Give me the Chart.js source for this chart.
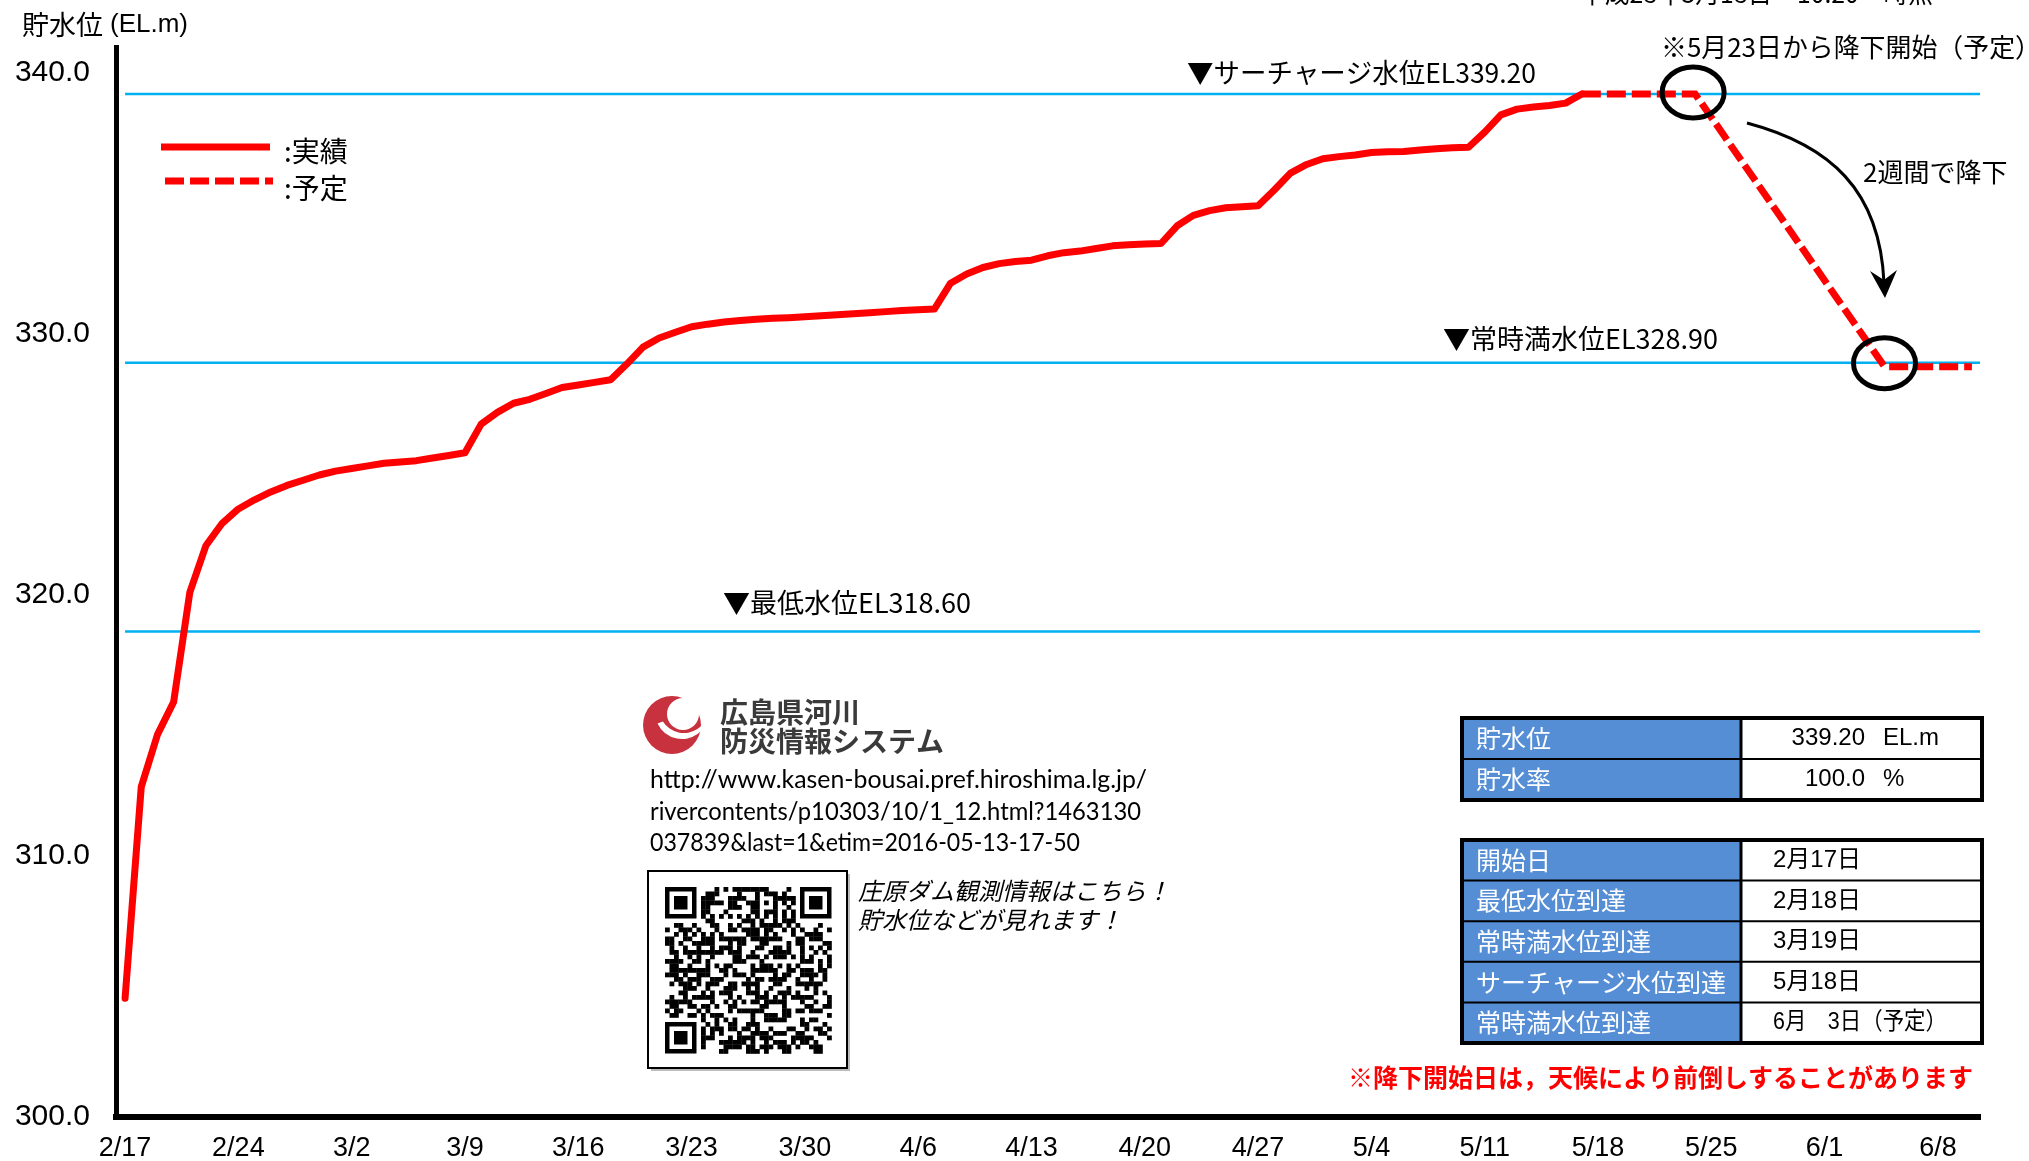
<!DOCTYPE html>
<html lang="ja">
<head>
<meta charset="utf-8">
<title>貯水位</title>
<script src="https://cdn.jsdelivr.net/npm/chart.js@4.4.1/dist/chart.umd.min.js"></script>
<style>
  html, body { margin: 0; padding: 0; background: #fff; }
</style>
</head>
<body>
<canvas id="chart" width="2029" height="1161"></canvas>
<script>
// x = days since 2/17
const dateLabels = ['2/17', '2/24', '3/2', '3/9', '3/16', '3/23', '3/30', '4/6', '4/13', '4/20', '4/27', '5/4', '5/11', '5/18', '5/25', '6/1', '6/8'];
const yTicks = [300, 310, 320, 330, 340];

// daily water level (EL.m), day 0 = 2/17
const actualLevel = [
  304.55, 312.65, 314.65, 315.9, 320.1, 321.9, 322.75, 323.3, 323.65, 323.95,
  324.2, 324.4, 324.6, 324.75, 324.85, 324.95, 325.05, 325.1, 325.15, 325.25,
  325.35, 325.45, 326.55, 327.0, 327.35, 327.5, 327.72, 327.95, 328.05, 328.15,
  328.25, 328.85, 329.5, 329.85, 330.07, 330.28, 330.38, 330.46, 330.52, 330.57,
  330.61, 330.63, 330.66, 330.7, 330.74, 330.78, 330.82, 330.86, 330.9, 330.93,
  330.96, 331.95, 332.3, 332.55, 332.7, 332.78, 332.83, 333.0, 333.12, 333.18,
  333.28, 333.38, 333.42, 333.45, 333.47, 334.15, 334.55, 334.73, 334.84, 334.88,
  334.92, 335.52, 336.17, 336.5, 336.72, 336.8, 336.86, 336.96, 336.99, 337.0,
  337.05, 337.1, 337.14, 337.16, 337.74, 338.4, 338.62, 338.7, 338.76, 338.85,
  339.2
];
// planned drawdown
const planDays = [90, 97, 108.7, 114.1];
const planLevel = [339.2, 339.2, 328.75, 328.75];

// reference levels
const refLevels = [339.2, 328.9, 318.6];
const refNames = ['サーチャージ水位', '常時満水位', '最低水位'];

// info tables
const table1Labels = ['貯水位', '貯水率'];
const table1Values = ['339.20', '100.0'];
const table1Units = ['EL.m', '%'];
const table2Labels = ['開始日', '最低水位到達', '常時満水位到達', 'サーチャージ水位到達', '常時満水位到達'];
const table2Values = ['2月17日', '2月18日', '3月19日', '5月18日', '6月　3日（予定）'];

const urlLines = [
  'http://www.kasen-bousai.pref.hiroshima.lg.jp/',
  'rivercontents/p10303/10/1_12.html?1463130',
  '037839&last=1&etim=2016-05-13-17-50'
];

const X_MIN = -0.56, X_MAX = 114.6;
const RED = '#FF0000';
const BLUE = '#00B0F0';
const CELL_BLUE = '#558ED5';
const JP = '"Noto Sans CJK JP", sans-serif';
const NUM = '"Liberation Sans", "Noto Sans CJK JP", sans-serif';
const DASH = [19, 6];

function txt(ctx, s, x, y, size, o = {}) {
  ctx.save();
  ctx.font = [o.style, o.weight, size + 'px', o.family || NUM].filter(Boolean).join(' ');
  ctx.fillStyle = o.color || '#000';
  ctx.textAlign = o.align || 'left';
  ctx.textBaseline = 'middle';
  if (o.maxWidth) ctx.fillText(s, x, y, o.maxWidth);
  else ctx.fillText(s, x, y);
  ctx.restore();
}

function line(ctx, x0, y0, x1, y1, w, color) {
  ctx.beginPath();
  ctx.moveTo(x0, y0);
  ctx.lineTo(x1, y1);
  ctx.lineWidth = w;
  ctx.strokeStyle = color;
  ctx.stroke();
}

function drawTable(ctx, top, rowH, labels, drawValue) {
  const x0 = 1462, x1 = 1982, xs = 1741;
  const bottom = top + rowH * labels.length;
  ctx.fillStyle = CELL_BLUE;
  ctx.fillRect(x0, top, xs - x0, bottom - top);
  labels.forEach((s, i) => {
    const cy = top + rowH * (i + 0.5);
    txt(ctx, s, 1476, cy, 25, { family: JP, color: '#fff' });
    drawValue(i, cy);
    if (i > 0) line(ctx, x0, top + rowH * i, x1, top + rowH * i, 2, '#000');
  });
  line(ctx, xs, top, xs, bottom, 3, '#000');
  ctx.lineWidth = 4;
  ctx.strokeStyle = '#000';
  ctx.strokeRect(x0, top, x1 - x0, bottom - top);
}

function qrBit(r, c) {
  let h = Math.imul(r + 11, 374761393) ^ Math.imul(c + 7, 668265263);
  h = Math.imul(h ^ (h >>> 13), 1274126177);
  return ((h ^ (h >>> 16)) >>> 5) & 1;
}

function drawQR(ctx) {
  ctx.fillStyle = '#bbb';
  ctx.fillRect(651, 874, 199, 197);
  ctx.fillStyle = '#fff';
  ctx.fillRect(648, 871, 199, 197);
  ctx.lineWidth = 2;
  ctx.strokeStyle = '#000';
  ctx.strokeRect(648, 871, 199, 197);
  const n = 37, m = 4.5, ox = 665, oy = 887;
  const finder = (r, c) => {
    ctx.fillStyle = '#000';
    ctx.fillRect(ox + c * m, oy + r * m, 7 * m, 7 * m);
    ctx.fillStyle = '#fff';
    ctx.fillRect(ox + (c + 1) * m, oy + (r + 1) * m, 5 * m, 5 * m);
    ctx.fillStyle = '#000';
    ctx.fillRect(ox + (c + 2) * m, oy + (r + 2) * m, 3 * m, 3 * m);
  };
  ctx.fillStyle = '#000';
  for (let r = 0; r < n; r++) {
    for (let c = 0; c < n; c++) {
      const inFinder = (r < 8 && c < 8) || (r < 8 && c > n - 9) || (r > n - 9 && c < 8);
      if (inFinder) continue;
      let on = qrBit(r, c);
      if (r === 6) on = c % 2 === 0;
      if (c === 6) on = r % 2 === 0;
      if (on) ctx.fillRect(ox + c * m, oy + r * m, m + 0.3, m + 0.3);
    }
  }
  finder(0, 0);
  finder(0, n - 7);
  finder(n - 7, 0);
}

function drawLogo(ctx) {
  ctx.save();
  ctx.filter = 'blur(0.7px)';
  ctx.fillStyle = '#C8323F';
  ctx.beginPath();
  ctx.arc(672, 725, 29, 0, Math.PI * 2);
  ctx.fill();
  // opening of the crescent
  ctx.fillStyle = '#fff';
  ctx.beginPath();
  ctx.arc(683, 714, 16, 0, Math.PI * 2);
  ctx.fill();
  ctx.beginPath();
  ctx.moveTo(683, 698);
  ctx.lineTo(706, 694);
  ctx.lineTo(706, 716);
  ctx.lineTo(699, 714);
  ctx.closePath();
  ctx.fill();
  // white swoosh
  ctx.beginPath();
  ctx.arc(682, 712, 27, 0.06 * Math.PI, 0.86 * Math.PI, false);
  ctx.arc(684, 708, 25, 0.82 * Math.PI, 0.1 * Math.PI, true);
  ctx.closePath();
  ctx.fill();
  txt(ctx, '広島県河川', 720, 712, 28, { family: JP, weight: 'bold', color: '#3a3a3a', maxWidth: 150 });
  txt(ctx, '防災情報システム', 720, 741, 28, { family: JP, weight: 'bold', color: '#3a3a3a', maxWidth: 230 });
  ctx.restore();
}

const overlay = {
  id: 'overlay',
  afterDraw(chart) {
    const { ctx, scales: { x, y } } = chart;
    ctx.save();

    // axis title
    txt(ctx, '貯水位', 22, 25, 27, { family: JP });
    txt(ctx, '(EL.m)', 110, 25, 26, { family: NUM });

    // legend
    ctx.lineCap = 'butt';
    line(ctx, 161, 147, 270, 147, 7, RED);
    ctx.setLineDash(DASH);
    line(ctx, 165, 181, 273, 181, 7, RED);
    ctx.setLineDash([]);
    txt(ctx, ':実績', 284, 151, 28, { family: JP });
    txt(ctx, ':予定', 284, 188, 28, { family: JP });

    // reference line labels
    const refX = [1187, 1443, 723];
    const refY = [73, 339, 603];
    const refW = [349, 281, 255];
    refLevels.forEach((v, i) => {
      txt(ctx, '▼' + refNames[i] + 'EL' + v.toFixed(2), refX[i], refY[i], 27, { family: JP, maxWidth: refW[i] });
    });

    // header notes
    txt(ctx, '平成28年5月18日　10:20　時点', 1580, -7, 26, { family: JP, maxWidth: 353 });
    txt(ctx, '※5月23日から降下開始（予定）', 1661, 47, 26, { family: JP, maxWidth: 380 });
    txt(ctx, '2週間で降下', 1863, 172, 26, { family: JP });

    // circles at plan turning points
    ctx.lineWidth = 5;
    ctx.strokeStyle = '#000';
    [[planDays[1], planLevel[1], -2, -1.5], [planDays[2], planLevel[2], 0, -3.5]].forEach(([d, v, dx, dy]) => {
      ctx.beginPath();
      ctx.ellipse(x.getPixelForValue(d) + dx, y.getPixelForValue(v) + dy, 31, 25.5, 0, 0, Math.PI * 2);
      ctx.stroke();
    });

    // curved arrow
    ctx.lineWidth = 3;
    ctx.beginPath();
    ctx.moveTo(1747, 123);
    ctx.bezierCurveTo(1830, 145, 1880, 190, 1884, 283);
    ctx.stroke();
    ctx.fillStyle = '#000';
    ctx.beginPath();
    ctx.moveTo(1885, 298);
    ctx.lineTo(1870, 271);
    ctx.lineTo(1884, 280);
    ctx.lineTo(1897, 270);
    ctx.closePath();
    ctx.fill();

    // tables
    drawTable(ctx, 718, 41, table1Labels, (i, cy) => {
      txt(ctx, table1Values[i], 1865, cy, 24, { align: 'right' });
      txt(ctx, table1Units[i], 1883, cy, 24);
    });
    drawTable(ctx, 840, 40.6, table2Labels, (i, cy) => {
      txt(ctx, table2Values[i], 1773, cy, 24, { family: NUM, maxWidth: 174 });
    });

    txt(ctx, '※降下開始日は，天候により前倒しすることがあります', 1348, 1077, 25,
      { family: JP, weight: 'bold', color: RED, maxWidth: 632 });

    // logo, url, QR
    drawLogo(ctx);
    const urlY = [780, 812, 843];
    const urlW = [497, 491, 430];
    urlLines.forEach((s, i) => txt(ctx, s, 650, urlY[i], 25, { family: 'Lato, sans-serif', maxWidth: urlW[i] }));
    drawQR(ctx);
    txt(ctx, '庄原ダム観測情報はこちら！', 858, 891, 24, { family: JP, style: 'italic', maxWidth: 318 });
    txt(ctx, '貯水位などが見れます！', 858, 920, 24, { family: JP, style: 'italic' });

    ctx.restore();
  }
};

const datasets = [
  {
    label: '実績',
    data: actualLevel.map((v, i) => ({ x: i, y: v })),
    borderColor: RED,
    borderWidth: 7,
    borderCapStyle: 'round',
    borderJoinStyle: 'round'
  },
  {
    label: '予定',
    data: planDays.map((d, i) => ({ x: d, y: planLevel[i] })),
    borderColor: RED,
    borderWidth: 7,
    borderDash: DASH,
    borderCapStyle: 'butt',
    borderJoinStyle: 'miter'
  }
].concat(refLevels.map((v, i) => ({
  label: refNames[i],
  data: [{ x: 0, y: v }, { x: X_MAX, y: v }],
  borderColor: BLUE,
  borderWidth: 2.5
})));

new Chart(document.getElementById('chart'), {
  type: 'line',
  data: { datasets },
  options: {
    responsive: false,
    animation: false,
    devicePixelRatio: 1,
    layout: { padding: { top: 47, right: 49, left: 0, bottom: 0 } },
    elements: { point: { radius: 0 }, line: { tension: 0 } },
    plugins: { legend: { display: false }, tooltip: { enabled: false } },
    scales: {
      x: {
        type: 'linear',
        min: X_MIN,
        max: X_MAX,
        afterFit: s => { s.height = 44; },
        afterBuildTicks: s => { s.ticks = dateLabels.map((_, i) => ({ value: i * 7 })); },
        grid: { display: false, drawTicks: false },
        border: { display: true, color: '#000', width: 6 },
        ticks: {
          padding: 15,
          color: '#000',
          maxRotation: 0,
          autoSkip: false,
          font: { family: NUM, size: 27 },
          callback: v => dateLabels[Math.round(v / 7)]
        }
      },
      y: {
        min: 300,
        max: 341,
        afterFit: s => { s.width = 116; },
        afterBuildTicks: s => { s.ticks = yTicks.map(v => ({ value: v })); },
        grid: { display: false, drawTicks: false },
        border: { display: true, color: '#000', width: 5 },
        ticks: {
          padding: 26,
          color: '#000',
          font: { family: NUM, size: 30 },
          callback: v => Number(v).toFixed(1)
        }
      }
    }
  },
  plugins: [overlay]
});
</script>
</body>
</html>
